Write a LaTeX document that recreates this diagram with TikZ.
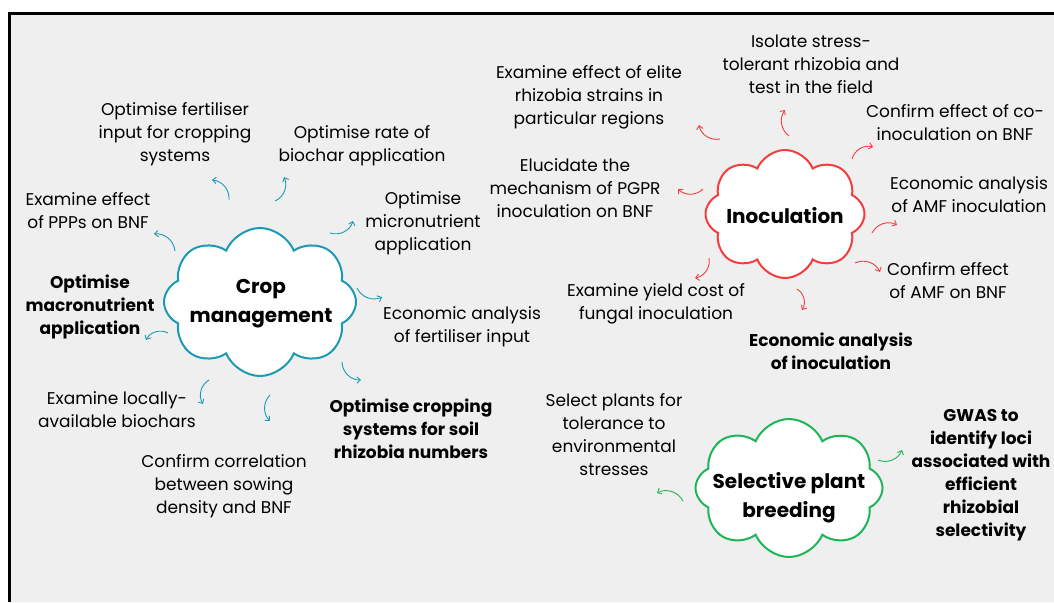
\documentclass[tikz,border=0pt]{standalone}
\usepackage{fontspec}
\setmainfont{Poppins}
\usetikzlibrary{shapes.symbols,arrows.meta}
\definecolor{bgc}{HTML}{EFEFEF}
\definecolor{tealc}{HTML}{1C9AB4}
\definecolor{redc}{HTML}{F43D3D}
\definecolor{greenc}{HTML}{1EB557}
\begin{document}
\begin{tikzpicture}[x=1pt,y=-1pt,
  txt/.style={align=center, font=\fontsize{17}{23}\selectfont, inner sep=0pt, yshift=-1.5pt},
  btxt/.style={align=center, font=\fontsize{17}{23}\selectfont\bfseries, inner sep=0pt, yshift=-1.5pt},
  cl/.style={cloud, cloud puffs=8, cloud puff arc=135, cloud ignores aspect, fill=white, line width=2pt, inner sep=0pt},
  lbl/.style={align=center, font=\fontsize{20}{29}\selectfont\bfseries, inner sep=0pt},
  arr/.style={-{Straight Barb[length=3.5pt,width=6.5pt]}, line width=0.9pt},
]
\useasboundingbox (0,0) rectangle (1054,602);
\fill[white] (0,0) rectangle (1054,602);
\fill[bgc] (9,13) rectangle (1054,602);
\draw[line width=3pt] (9,602) -- (9,13.5) -- (1054,13.5);

% clouds
\node[cl, draw=tealc, minimum width=192pt, minimum height=148pt] (crop) at (260,302) {};
\node[lbl] (cropl) at (261,304) {Crop\\management};
\node[cl, draw=redc, minimum width=159pt, minimum height=128pt] (inoc) at (785,214) {};
\node[lbl] (inocl) at (785,216) {Inoculation};
\node[cl, draw=greenc, minimum width=187pt, minimum height=138pt] (spb) at (789,488) {};
\node[lbl] (spbl) at (789,498) {Selective plant\\breeding};

% crop management texts
\node[txt] (c1) at (175,133) {Optimise fertiliser\\input for cropping\\systems};
\node[txt] (c2) at (362,144) {Optimise rate of\\biochar application};
\node[txt] (c3) at (88,209) {Examine effect\\of PPPs on BNF};
\node[txt] (c4) at (423,222) {Optimise\\micronutrient\\application};
\node[btxt] (c5) at (90,305) {Optimise\\macronutrient\\application};
\node[txt] (c6) at (462,325) {Economic analysis\\of fertiliser input};
\node[txt] (c7) at (117,408) {Examine locally-\\available biochars};
\node[btxt] (c8) at (411,427) {Optimise cropping\\systems for soil\\rhizobia numbers};
\node[txt] (c9) at (224,485) {Confirm correlation\\between sowing\\density and BNF};

% inoculation texts
\node[txt] (i1) at (811,63) {Isolate stress-\\tolerant rhizobia and\\test in the field};
\node[txt] (i2) at (589,96) {Examine effect of elite\\rhizobia strains in\\particular regions};
\node[txt] (i3) at (955,121) {Confirm effect of co-\\inoculation on BNF};
\node[txt] (i4) at (575,187) {Elucidate the\\mechanism of PGPR\\inoculation on BNF};
\node[txt] (i5) at (969,193) {Economic analysis\\of AMF inoculation};
\node[txt] (i6) at (948,279) {Confirm effect\\of AMF on BNF};
\node[txt] (i7) at (656,302) {Examine yield cost of\\fungal inoculation};
\node[btxt] (i8) at (831,350) {Economic analysis\\of inoculation};

% selective breeding texts
\node[txt] (s1) at (614,433) {Select plants for\\tolerance to\\environmental\\stresses};
\node[btxt] (s2) at (981,474) {GWAS to\\identify loci\\associated with\\efficient\\rhizobial\\selectivity};

% arrows crop
\begin{scope}[tealc]
\draw[arr] (229,200) to[bend right=45] (212,180);
\draw[arr] (275,201) to[bend right=45] (284,177);
\draw[arr] (330,233) to[bend right=45] (353,221);
\draw[arr] (357,288) to[bend right=45] (382,297);
\draw[arr] (342,362) to[bend right=45] (361,380);
\draw[arr] (209,380) to[bend right=45] (203,404);
\draw[arr] (270,395) to[bend right=45] (270,421);
\draw[arr] (168,333) to[bend right=45] (146,340);
\draw[arr] (175,251) to[bend right=45] (154,234);
\end{scope}
% arrows inoculation
\begin{scope}[redc]
\draw[arr] (720,139) to[bend left=45] (699,125);
\draw[arr] (789,136) to[bend left=45] (785,110);
\draw[arr] (852,159) to[bend left=45] (873,147);
\draw[arr] (703,189) to[bend left=45] (678,189);
\draw[arr] (872,233) to[bend left=45] (897,225);
\draw[arr] (855,263) to[bend left=45] (880,272);
\draw[arr] (709,258) to[bend left=45] (695,278);
\draw[arr] (797,289) to[bend left=45] (802,310);
\end{scope}
% arrows selective
\begin{scope}[greenc]
\draw[arr] (683,501) to[bend right=45] (657,493);
\draw[arr] (878,460) to[bend right=45] (902,450);
\end{scope}
\end{tikzpicture}
\end{document}
